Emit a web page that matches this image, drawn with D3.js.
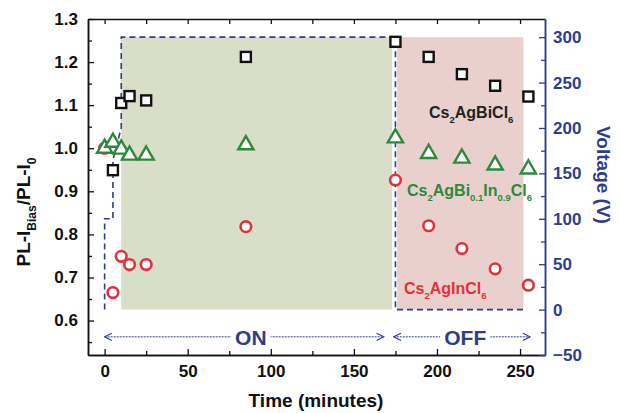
<!DOCTYPE html>
<html>
<head>
<meta charset="utf-8">
<script src="https://cdn.jsdelivr.net/npm/d3@7"></script>
<style>
  body { margin: 0; background: #fff; }
  svg { font-family: "Liberation Sans", Arial, sans-serif; font-weight: bold; }
</style>
</head>
<body>
<svg id="svg"></svg>
<script>
// PL ratio vs time, three perovskites, voltage on right axis
const timeBi = [5, 10, 15, 25, 85, 175, 195, 215, 235, 255];
const biValues = [0.949, 1.105, 1.121, 1.111, 1.212, 1.247, 1.212, 1.172, 1.145, 1.12];

const timeMix = [0, 5, 10, 15, 25, 85, 175, 195, 215, 235, 255];
const mixValues = [1.002, 1.016, 1.0, 0.986, 0.986, 1.01, 1.026, 0.99, 0.979, 0.963, 0.954];

const timeIn = [0, 5, 10, 15, 25, 85, 175, 195, 215, 235, 255];
const inValues = [1.0, 0.665, 0.749, 0.73, 0.73, 0.818, 0.926, 0.82, 0.767, 0.72, 0.682];

// applied bias (V)
const voltTime = [0, 0, 5, 5, 10, 10, 175, 175, 252];
const voltValues = [0, 100, 100, 165, 200, 300, 300, 0, 0];

// bias on / off phases (minutes)
const phaseNames = ["ON", "OFF"];
const phaseStart = [10, 176];
const phaseEnd = [173, 252];
const arrowStart = [0, 174];
const arrowEnd = [168, 256];

const xTicks = [0, 50, 100, 150, 200, 250];
const yTicks = [0.6, 0.7, 0.8, 0.9, 1.0, 1.1, 1.2, 1.3];
const vTicks = [-50, 0, 50, 100, 150, 200, 250, 300];

const width = 620, height = 413;
const svg = d3.select("#svg").attr("width", width).attr("height", height);

const x = d3.scaleLinear().domain([-10, 265]).range([88, 545]);
const y = d3.scaleLinear().domain([0.52, 1.3]).range([355, 19]);
const yV = d3.scaleLinear().domain([-50, 320]).range([355, 19]);

const blue = "#2f3d8c";
const green = "#2c8a3c";
const red = "#e0323c";
const shade = ["#d8dec8", "#e9d0cd"];

// shaded phases
phaseNames.forEach((p, i) => {
  svg.append("rect")
    .attr("x", x(phaseStart[i]))
    .attr("y", yV(300))
    .attr("width", x(phaseEnd[i]) - x(phaseStart[i]))
    .attr("height", yV(0) - yV(300))
    .attr("fill", shade[i]);
});

// voltage staircase
const voltLine = d3.line().x(d => x(d[0])).y(d => yV(d[1]));
svg.append("path")
  .datum(voltTime.map((t, i) => [t, voltValues[i]]))
  .attr("d", voltLine)
  .attr("fill", "none")
  .attr("stroke", blue)
  .attr("stroke-width", 1.6)
  .attr("stroke-dasharray", "6,4");

// arrow markers
const defs = svg.append("defs");
["end", "start"].forEach(k => {
  defs.append("marker")
    .attr("id", "arr-" + k)
    .attr("viewBox", "0 0 10 10")
    .attr("refX", 9).attr("refY", 5)
    .attr("markerWidth", 9).attr("markerHeight", 9)
    .attr("markerUnits", "userSpaceOnUse")
    .attr("orient", "auto-start-reverse")
    .append("path")
    .attr("d", "M1,1 L9,5 L1,9")
    .attr("fill", "none")
    .attr("stroke", blue)
    .attr("stroke-width", 1.2);
});

const arrowY = yV(-30);
phaseNames.forEach((p, i) => {
  svg.append("line")
    .attr("x1", x(arrowStart[i])).attr("x2", x(arrowEnd[i]))
    .attr("y1", arrowY).attr("y2", arrowY)
    .attr("stroke", blue)
    .attr("stroke-width", 1)
    .attr("stroke-dasharray", "2,1")
    .attr("marker-start", "url(#arr-start)")
    .attr("marker-end", "url(#arr-end)");
  const cx = i === 0 ? x(88) : x(217);
  const t = svg.append("text")
    .attr("x", cx).attr("y", arrowY + 8)
    .attr("text-anchor", "middle")
    .attr("font-size", 21)
    .attr("fill", blue)
    .text(p);
  const bb = t.node().getBBox();
  svg.insert("rect", () => t.node())
    .attr("x", bb.x - 4).attr("y", bb.y)
    .attr("width", bb.width + 8).attr("height", bb.height)
    .attr("fill", "#fff");
});

// markers
svg.append("g").selectAll("rect")
  .data(timeBi.map((t, i) => [t, biValues[i]]))
  .enter().append("rect")
  .attr("x", d => x(d[0]) - 5).attr("y", d => y(d[1]) - 5)
  .attr("width", 10).attr("height", 10)
  .attr("fill", "#fff")
  .attr("stroke", "#111")
  .attr("stroke-width", 2.4);

svg.append("g").selectAll("circle")
  .data(timeIn.map((t, i) => [t, inValues[i]]))
  .enter().append("circle")
  .attr("cx", d => x(d[0])).attr("cy", d => y(d[1]))
  .attr("r", 5.3)
  .attr("fill", "#fff")
  .attr("stroke", red)
  .attr("stroke-width", 2.6);

const tri = d3.symbol().type(d3.symbolTriangle).size(100);
svg.append("g").selectAll("path")
  .data(timeMix.map((t, i) => [t, mixValues[i]]))
  .enter().append("path")
  .attr("d", tri)
  .attr("transform", d => `translate(${x(d[0])},${y(d[1]) + 1})`)
  .attr("fill", "#fff")
  .attr("stroke", green)
  .attr("stroke-width", 2.4);

// series labels with subscripts
function chem(xp, yp, parts, color) {
  const t = svg.append("text")
    .attr("x", xp).attr("y", yp)
    .attr("font-size", 16)
    .attr("fill", color);
  let shift = 0;
  parts.forEach(([s, sub]) => {
    const dy = sub ? 5 - shift : -shift;
    shift = sub ? 5 : 0;
    t.append("tspan")
      .attr("dy", dy)
      .attr("font-size", sub ? 9.5 : 16)
      .text(s);
  });
}
chem(429, 118, [["Cs", 0], ["2", 1], ["AgBiCl", 0], ["6", 1]], "#222");
chem(407, 196, [["Cs", 0], ["2", 1], ["AgBi", 0], ["0.1", 1], ["In", 0], ["0.9", 1], ["Cl", 0], ["6", 1]], green);
chem(404, 294, [["Cs", 0], ["2", 1], ["AgInCl", 0], ["6", 1]], red);

// axes
function styleAxis(g, color) {
  g.select(".domain").attr("stroke", color).attr("stroke-width", 1.5);
  g.selectAll(".tick line").attr("stroke", color).attr("stroke-width", 1.3);
  g.selectAll("text")
    .attr("fill", color)
    .attr("font-size", 17)
    .attr("font-weight", "bold")
    .attr("font-family", "Liberation Sans, Arial, sans-serif");
}

const bottomAxis = svg.append("g").attr("transform", "translate(0,355)")
  .call(d3.axisBottom(x).tickValues(xTicks).tickFormat(d3.format("d"))
    .tickSizeInner(-6).tickSizeOuter(0).tickPadding(10));
styleAxis(bottomAxis, "#111");
const bottomMinor = svg.append("g").attr("transform", "translate(0,355)")
  .call(d3.axisBottom(x).tickValues(d3.range(25, 260, 50)).tickFormat("")
    .tickSizeInner(-4).tickSizeOuter(0));
styleAxis(bottomMinor, "#111");

const topAxis = svg.append("g").attr("transform", "translate(0,19)")
  .call(d3.axisTop(x).tickValues(d3.range(0, 260, 25)).tickFormat("")
    .tickSizeInner(-5).tickSizeOuter(0));
styleAxis(topAxis, "#111");

const leftAxis = svg.append("g").attr("transform", "translate(88,0)")
  .call(d3.axisLeft(y).tickValues(yTicks).tickFormat(d3.format(".1f"))
    .tickSizeInner(-6).tickSizeOuter(0).tickPadding(10));
styleAxis(leftAxis, "#111");
const leftMinor = svg.append("g").attr("transform", "translate(88,0)")
  .call(d3.axisLeft(y).tickValues(d3.range(0.55, 1.3, 0.1)).tickFormat("")
    .tickSizeInner(-4).tickSizeOuter(0));
styleAxis(leftMinor, "#111");

const rightAxis = svg.append("g").attr("transform", "translate(545,0)")
  .call(d3.axisRight(yV).tickValues(vTicks).tickFormat(d3.format("d"))
    .tickSizeInner(-6).tickSizeOuter(0).tickPadding(8));
styleAxis(rightAxis, blue);
const rightMinor = svg.append("g").attr("transform", "translate(545,0)")
  .call(d3.axisRight(yV).tickValues(d3.range(-25, 320, 50)).tickFormat("")
    .tickSizeInner(-4).tickSizeOuter(0));
styleAxis(rightMinor, blue);

// axis titles
svg.append("text")
  .attr("x", 316).attr("y", 407)
  .attr("text-anchor", "middle")
  .attr("font-size", 19)
  .attr("fill", "#111")
  .text("Time (minutes)");

const yt = svg.append("text")
  .attr("transform", "translate(30,212) rotate(-90)")
  .attr("text-anchor", "middle")
  .attr("font-size", 19)
  .attr("fill", "#111");
yt.append("tspan").text("PL-I");
yt.append("tspan").attr("dy", 6).attr("font-size", 12).text("Bias");
yt.append("tspan").attr("dy", -6).text("/PL-I");
yt.append("tspan").attr("dy", 6).attr("font-size", 12).text("0");

svg.append("text")
  .attr("transform", "translate(597,175) rotate(90)")
  .attr("text-anchor", "middle")
  .attr("font-size", 19)
  .attr("fill", blue)
  .text("Voltage (V)");
</script>
</body>
</html>
